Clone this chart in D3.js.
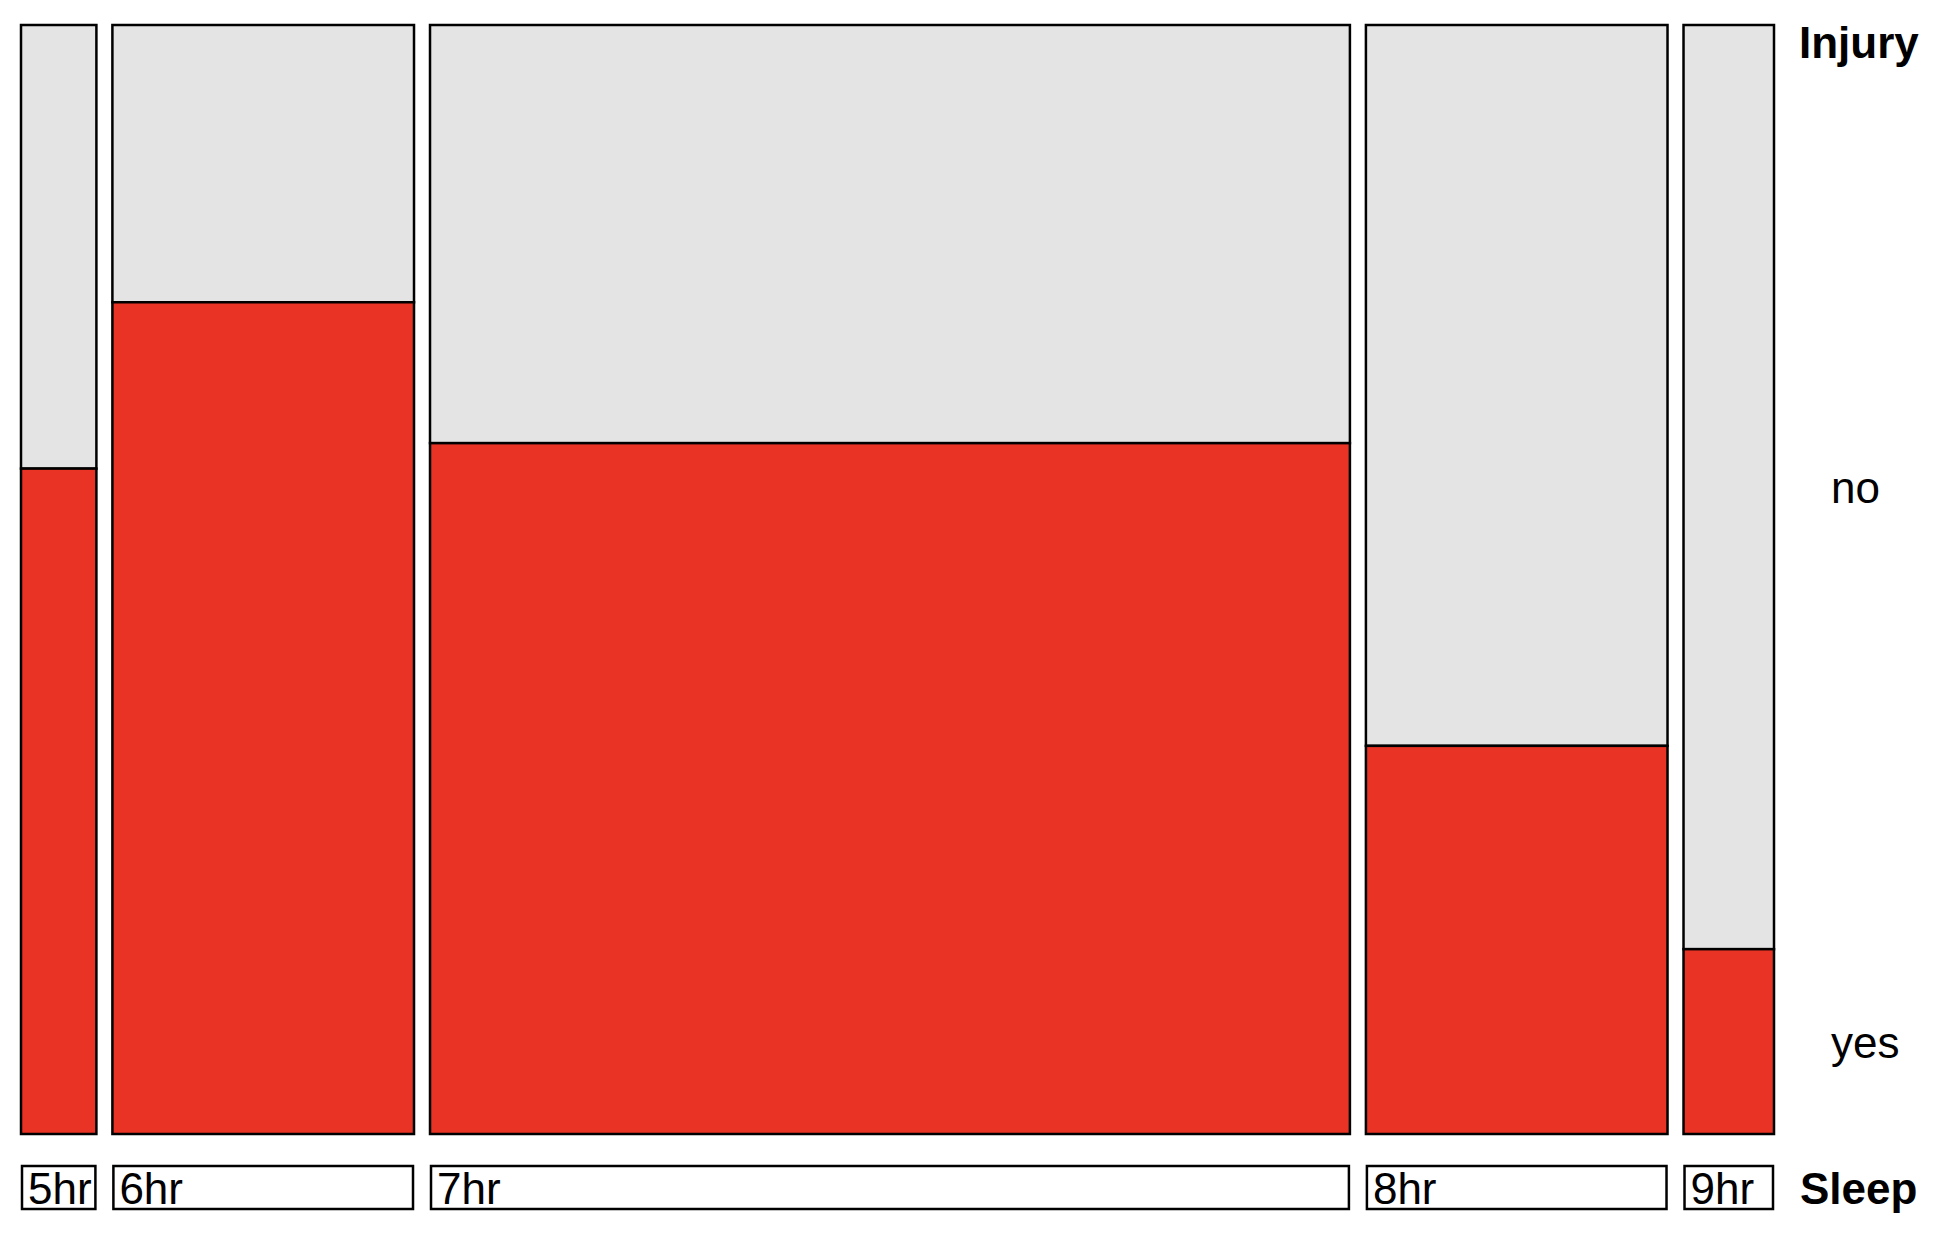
<!DOCTYPE html>
<html>
<head>
<meta charset="utf-8">
<script src="https://cdn.jsdelivr.net/npm/d3@7"></script>
<style>
  html, body { margin: 0; padding: 0; background: #fff; }
  svg { display: block; font-family: "Liberation Sans", Arial, Helvetica, sans-serif; }
</style>
</head>
<body>
<div id="chart"></div>
<script>
(function() {
    'use strict';

    // Sleep hours vs injury (counts per group)
    const sleepLevels = ['5hr', '6hr', '7hr', '8hr', '9hr'];
    const injuryYes = [3, 15, 38, 7, 1];
    const injuryNo = [2, 5, 23, 13, 5];
    const injuryLevels = ['no', 'yes'];

    const width = 1948;
    const height = 1244;
    const panel = { left: 21, right: 1774, top: 25, bottom: 1134 };
    const gap = 16;
    const labelBox = { top: 1166, bottom: 1209 };
    const fontSize = 44;

    const colors = { yes: '#e93324', no: '#e4e4e4' };

    const svg = d3.select('#chart')
        .append('svg')
        .attr('width', width)
        .attr('height', height);

    const totals = sleepLevels.map((d, i) => injuryYes[i] + injuryNo[i]);
    const grand = d3.sum(totals);
    const cum = d3.cumsum([0].concat(totals));

    const innerW = panel.right - panel.left - gap * (sleepLevels.length - 1);
    const x = d3.scaleLinear().domain([0, grand]).range([0, innerW]);
    const y = d3.scaleLinear().domain([0, 1]).range([panel.bottom, panel.top]);

    const cols = sleepLevels.map((s, i) => {
        const x0 = panel.left + x(cum[i]) + i * gap;
        const w = x(totals[i]);
        const pYes = injuryYes[i] / totals[i];
        return { sleep: s, x0, w, pYes };
    });

    const g = svg.append('g');

    // "no" part (top)
    g.selectAll('rect.no')
        .data(cols)
        .join('rect')
        .attr('class', 'no')
        .attr('x', d => d.x0)
        .attr('width', d => d.w)
        .attr('y', y(1))
        .attr('height', d => y(d.pYes) - y(1))
        .attr('fill', colors.no)
        .attr('stroke', '#000')
        .attr('stroke-width', 2.5);

    // "yes" part (bottom)
    g.selectAll('rect.yes')
        .data(cols)
        .join('rect')
        .attr('class', 'yes')
        .attr('x', d => d.x0)
        .attr('width', d => d.w)
        .attr('y', d => y(d.pYes))
        .attr('height', d => y(0) - y(d.pYes))
        .attr('fill', colors.yes)
        .attr('stroke', '#000')
        .attr('stroke-width', 2.5);

    // bottom level labels in boxes
    const lab = svg.append('g');
    lab.selectAll('rect')
        .data(cols)
        .join('rect')
        .attr('x', d => d.x0 + 1)
        .attr('width', d => d.w - 2)
        .attr('y', labelBox.top)
        .attr('height', labelBox.bottom - labelBox.top)
        .attr('fill', '#fff')
        .attr('stroke', '#000')
        .attr('stroke-width', 2.5);

    lab.selectAll('text')
        .data(cols)
        .join('text')
        .attr('x', d => d.x0 + 7)
        .attr('y', 1204)
        .attr('font-size', fontSize)
        .attr('fill', '#000')
        .text(d => d.sleep);

    // variable names
    svg.append('text')
        .attr('x', 1799)
        .attr('y', 58)
        .attr('font-size', fontSize)
        .attr('font-weight', 'bold')
        .text('Injury');

    svg.append('text')
        .attr('x', 1800)
        .attr('y', 1204)
        .attr('font-size', fontSize)
        .attr('font-weight', 'bold')
        .text('Sleep');

    // right side level labels, centred on the last column's segments
    const last = cols[cols.length - 1];
    const levelPos = {
        no: (y(1) + y(last.pYes)) / 2,
        yes: (y(last.pYes) + y(0)) / 2
    };
    svg.append('g').selectAll('text')
        .data(injuryLevels)
        .join('text')
        .attr('x', 1831)
        .attr('y', d => levelPos[d] + 16)
        .attr('font-size', fontSize)
        .attr('fill', '#000')
        .text(d => d);
})();
</script>
</body>
</html>
